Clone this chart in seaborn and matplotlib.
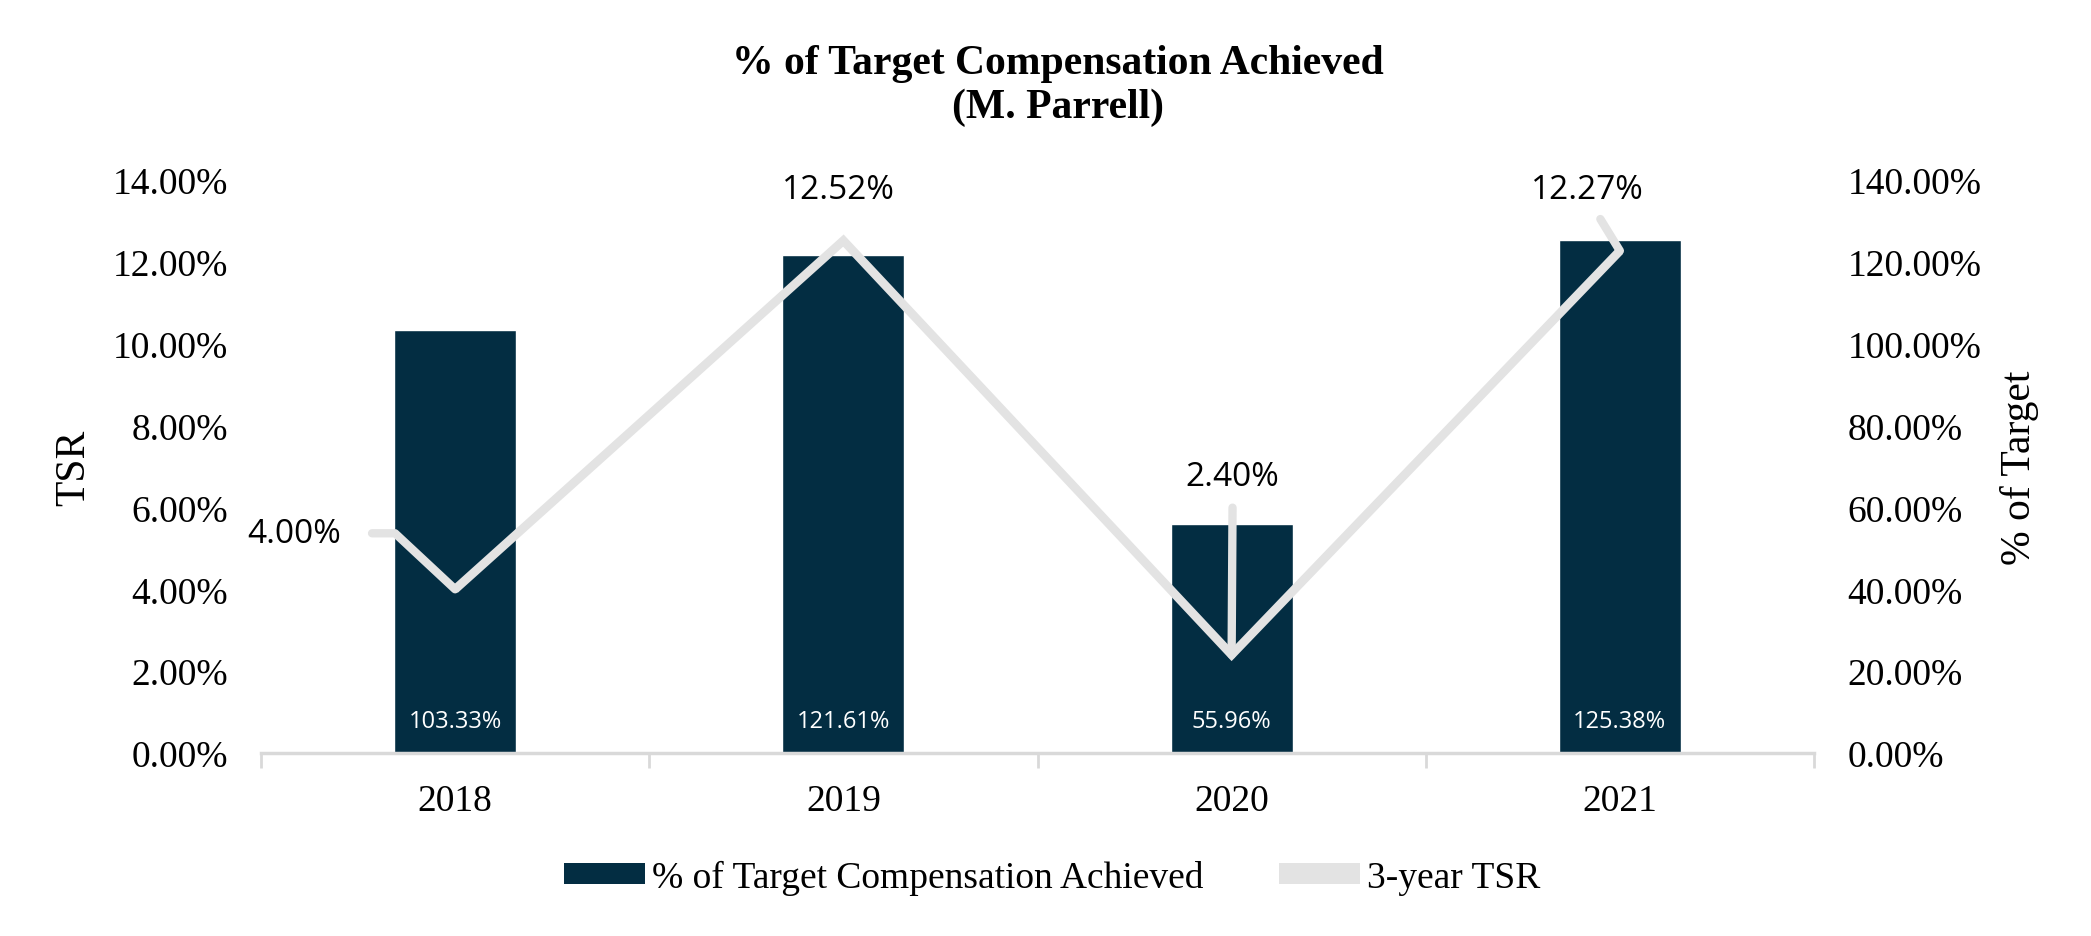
import numpy as np
import pandas as pd
import matplotlib
matplotlib.use("Agg")
import matplotlib.pyplot as plt
import seaborn as sns
from matplotlib.patches import Patch
from matplotlib.ticker import PercentFormatter, MultipleLocator, FixedLocator

# data
years = ["2018", "2019", "2020", "2021"]
pct_target = [103.33, 121.61, 55.96, 125.38]   # % of target compensation achieved (right axis)
tsr_3yr = [4.00, 12.52, 2.40, 12.27]            # 3-year TSR (left axis)

# where Excel put the TSR data labels, offset in pixels from each point
tsr_label_offsets = [(-161, 56), (-5, 51), (1, 178), (-33, 61)]

BAR_COLOR = "#032d42"
LINE_COLOR = "#e3e3e3"
AXIS_GREY = "#d9d9d9"
SERIF = ["Liberation Serif", "DejaVu Serif"]
SANS = ["Open Sans", "DejaVu Sans"]

sns.set_style("white")
plt.rcParams.update({
    "font.family": SERIF,
    "text.color": "black",
    "axes.labelcolor": "black",
    "xtick.color": "black",
    "ytick.color": "black",
})

df = pd.DataFrame({"year": years, "pct_target": pct_target, "tsr": tsr_3yr})

fig = plt.figure(figsize=(20.91, 9.37), dpi=100)
ax = fig.add_axes([261 / 2091, 1 - 754 / 937, 1553 / 2091, 573 / 937])
ax2 = ax.twinx()

# bars on the base axes (ticks shown on the right), line on the twin (ticks on the left)
sns.barplot(data=df, x="year", y="pct_target", color=BAR_COLOR, width=0.314,
            saturation=1, ax=ax)
sns.pointplot(data=df, x="year", y="tsr", color=LINE_COLOR, marker="", errorbar=None,
              linewidth=6.3, ax=ax2)
for ln in ax2.lines:
    ln.set_solid_joinstyle("miter")
    ln.set_solid_capstyle("butt")

ax.set_xlim(-0.5, 3.5)
ax.set_ylim(0, 140)
ax2.set_ylim(0, 14)

ax.yaxis.tick_right()
ax.yaxis.set_label_position("right")
ax2.yaxis.tick_left()
ax2.yaxis.set_label_position("left")

ax.yaxis.set_major_locator(MultipleLocator(20))
ax.yaxis.set_major_formatter(PercentFormatter(decimals=2))
ax2.yaxis.set_major_locator(MultipleLocator(2))
ax2.yaxis.set_major_formatter(PercentFormatter(decimals=2))

ax.tick_params(axis="y", labelsize=27, length=0, pad=24, labelright=True, labelleft=False)
ax2.tick_params(axis="y", labelsize=27, length=0, pad=24, labelleft=True, labelright=False)

# category labels centred, tick marks on the category boundaries
ax.tick_params(axis="x", which="major", labelsize=27, length=0, pad=22)
ax.xaxis.set_minor_locator(FixedLocator(np.arange(-0.5, 4, 1.0)))
ax.tick_params(axis="x", which="minor", bottom=True, length=11, width=2,
               color=AXIS_GREY, direction="out")
ax2.tick_params(axis="x", which="both", length=0)

for a in (ax, ax2):
    for s in ("top", "left", "right"):
        a.spines[s].set_visible(False)
ax2.spines["bottom"].set_visible(False)
ax.spines["bottom"].set_color(AXIS_GREY)
ax.spines["bottom"].set_linewidth(2.5)

ax.set_xlabel("")
ax.set_ylabel("% of Target", fontsize=30)
ax2.set_ylabel("TSR", fontsize=30)
ax2.yaxis.set_label_coords(-0.108, 0.5)
ax.yaxis.set_label_coords(1.12, 0.5)

# bar value labels near the bottom of each bar
for patch, val in zip(ax.patches, pct_target):
    cx = patch.get_x() + patch.get_width() / 2
    ax.annotate(f"{val:.2f}%", xy=(cx, 0), xytext=(0, 32), textcoords="offset pixels",
                ha="center", va="center", color="white", fontsize=17, family=SANS)

# TSR data labels with leader lines
xs = ax2.lines[0].get_xdata()
for i, (x, v) in enumerate(zip(xs, tsr_3yr)):
    dx, dy = tsr_label_offsets[i]
    arrow = None
    if i == 0:
        arrow = dict(arrowstyle="-", color=LINE_COLOR, lw=6, shrinkA=20, shrinkB=0,
                     relpos=(1, 0.5), connectionstyle="angle,angleA=0,angleB=137,rad=0")
    elif i == 2:
        arrow = dict(arrowstyle="-", color=LINE_COLOR, lw=6, shrinkA=8, shrinkB=0,
                     relpos=(0.5, 0))
    elif i == 3:
        arrow = dict(arrowstyle="-", color=LINE_COLOR, lw=6, shrinkA=8, shrinkB=0,
                     relpos=(0.55, 0))
    ax2.annotate(f"{v:.2f}%", xy=(x, v), xytext=(dx, dy), textcoords="offset pixels",
                 ha="center", va="center", fontsize=24, family=SANS, color="black",
                 arrowprops=arrow, zorder=1)

fig.text(1058 / 2091, 1 - 86 / 937, "% of Target Compensation Achieved\n(M. Parrell)",
         ha="center", va="center", fontsize=30, fontweight="bold", linespacing=1.18)

handles = [Patch(facecolor=BAR_COLOR, edgecolor="none"),
           Patch(facecolor=LINE_COLOR, edgecolor="none")]
fig.legend(handles, ["% of Target Compensation Achieved", "3-year TSR"],
           loc="center", bbox_to_anchor=(1052 / 2091, 1 - 878 / 937), ncol=2,
           frameon=False, fontsize=27, handlelength=2.16, handleheight=0.5,
           handletextpad=0.2, columnspacing=2.0)

fig.savefig("out.png", dpi=100)
